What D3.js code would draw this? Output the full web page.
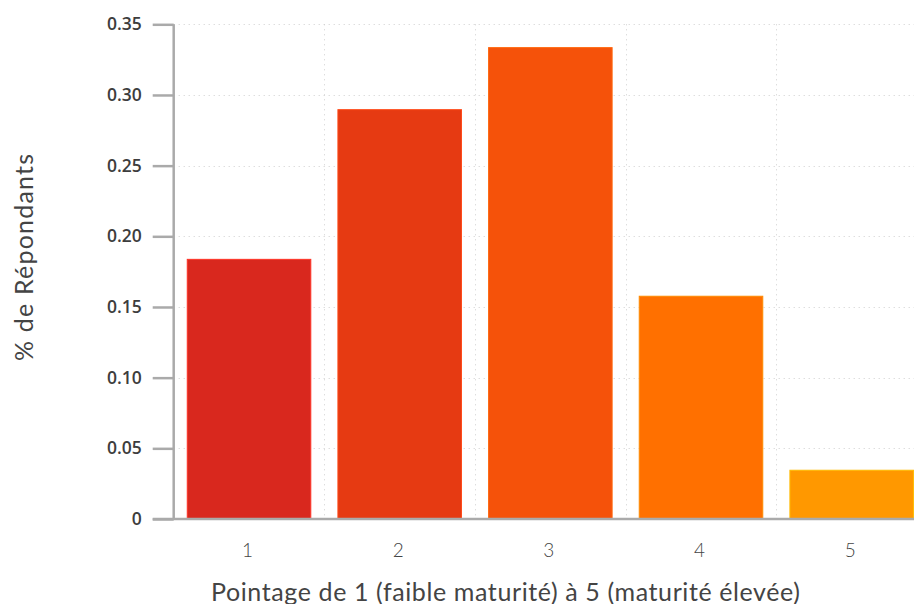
<!DOCTYPE html>
<html>
<head>
<meta charset="utf-8">
<script src="https://cdn.jsdelivr.net/npm/d3@7"></script>
<style>
  html, body { margin: 0; padding: 0; background: #fff; }
  svg { display: block; }
</style>
</head>
<body>
<svg id="chart" width="914" height="604"></svg>
<script>
// Maturity score distribution
const categories = ["1", "2", "3", "4", "5"];
const shares = [0.1837, 0.2896, 0.3335, 0.1576, 0.0345];
const barColors = ["#d9281e", "#e63a12", "#f5520a", "#ff7000", "#ff9800"];
const yTicks = [0, 0.05, 0.10, 0.15, 0.20, 0.25, 0.30, 0.35];
const yTickLabels = ["0", "0.05", "0.10", "0.15", "0.20", "0.25", "0.30", "0.35"];
const xTitle = "Pointage de 1 (faible maturité) à 5 (maturité élevée)";
const yTitle = "% de Répondants";

(function draw() {
  const svg = d3.select("#chart");
  const left = 173.7, right = 927, plotTop = 24.3, bottom = 519;

  const x = d3.scaleBand().domain(categories).range([left, right])
    .paddingInner(0.18).paddingOuter(0.09);
  const y = d3.scaleLinear().domain([0, 0.35]).range([bottom, plotTop]);

  // dotted grid: horizontal at each tick, vertical at band boundaries
  const grid = svg.append("g");
  grid.selectAll("line.h").data(yTicks.slice(1)).join("line")
    .attr("x1", left).attr("x2", 914)
    .attr("y1", d => Math.round(y(d)) + 0.5).attr("y2", d => Math.round(y(d)) + 0.5)
    .attr("stroke", "#cfcfcf").attr("stroke-width", 1).attr("stroke-dasharray", "1,4");
  const gap = (x.step() - x.bandwidth()) / 2;
  grid.selectAll("line.v").data(categories.slice(1)).join("line")
    .attr("x1", c => Math.round(x(c) - gap) + 0.5)
    .attr("x2", c => Math.round(x(c) - gap) + 0.5)
    .attr("y1", plotTop).attr("y2", bottom)
    .attr("stroke", "#cfcfcf").attr("stroke-width", 1).attr("stroke-dasharray", "1,4");

  // bars
  svg.append("g").selectAll("rect").data(shares).join("rect")
    .attr("x", (d, i) => x(categories[i]))
    .attr("width", x.bandwidth())
    .attr("y", d => y(d))
    .attr("height", d => bottom - y(d))
    .attr("fill", (d, i) => barColors[i])
    .attr("stroke", (d, i) => d3.color(barColors[i]).brighter(0.6))
    .attr("stroke-width", 1);

  // y axis
  const yAxis = d3.axisLeft(y).tickValues(yTicks)
    .tickFormat((d, i) => yTickLabels[i]).tickSize(21).tickPadding(11);
  const gy = svg.append("g").attr("transform", `translate(${left},0)`).call(yAxis);
  gy.attr("font-size", null).attr("font-family", null);
  gy.select(".domain").attr("stroke", "#aaaaaa").attr("stroke-width", 2.5)
    .attr("d", `M0,${plotTop}V${bottom}`);
  gy.selectAll(".tick line").attr("stroke", "#aaaaaa").attr("stroke-width", 2.5);
  gy.selectAll(".tick text")
    .attr("fill", "#3d3d3d")
    .attr("font-family", "'Open Sans', sans-serif")
    .attr("font-weight", 600)
    .attr("font-size", 17.5);

  // x axis
  const xAxis = d3.axisBottom(x).tickSize(0).tickPadding(25);
  const gx = svg.append("g").attr("transform", `translate(0,${bottom})`).call(xAxis);
  gx.attr("font-size", null).attr("font-family", null);
  gx.select(".domain").attr("stroke", "#aaaaaa").attr("stroke-width", 2.5)
    .attr("d", `M${left - 21},0H914`);
  gx.selectAll(".tick text")
    .attr("dx", -1.5)
    .attr("fill", "#444")
    .attr("font-family", "Lato, sans-serif")
    .attr("font-weight", 300)
    .attr("font-size", 19);

  // axis titles
  svg.append("text")
    .attr("x", 505.5).attr("y", 600.5)
    .attr("text-anchor", "middle")
    .attr("fill", "#444")
    .attr("font-family", "Lato, sans-serif")
    .attr("font-size", 25)
    .attr("textLength", 589)
    .attr("lengthAdjust", "spacing")
    .text(xTitle);

  svg.append("text")
    .attr("transform", "translate(32.5,257.5) rotate(-90)")
    .attr("text-anchor", "middle")
    .attr("fill", "#444")
    .attr("font-family", "Lato, sans-serif")
    .attr("font-size", 25)
    .attr("textLength", 207)
    .attr("lengthAdjust", "spacing")
    .text(yTitle);
})();
</script>
</body>
</html>
